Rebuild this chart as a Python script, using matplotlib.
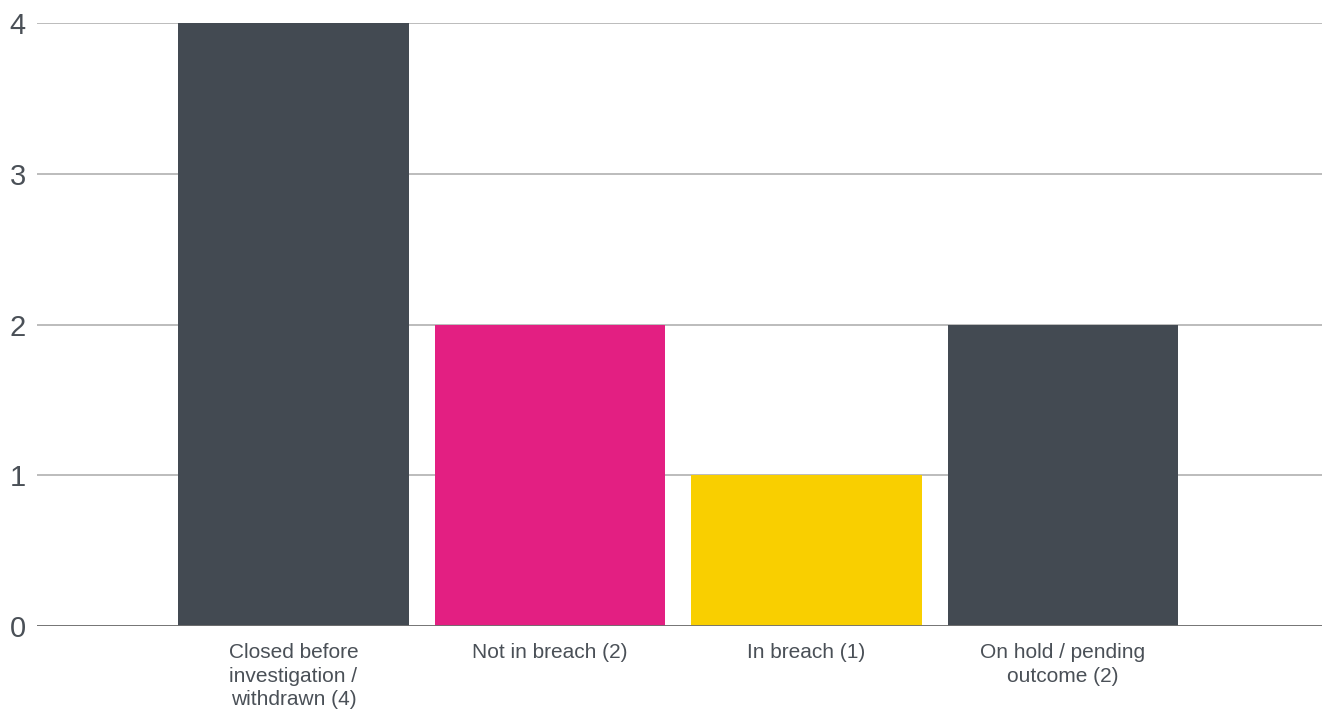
import matplotlib.pyplot as plt

# -- data --
categories = ["Closed before\ninvestigation /\nwithdrawn (4)", "Not in breach (2)",
              "In breach (1)", "On hold / pending\noutcome (2)"]
values = [4, 2, 1, 2]
colors = ["#434a52", "#e31f82", "#f9cf00", "#434a52"]
yticks = [0, 1, 2, 3, 4]

plt.rcParams['font.family'] = ['Liberation Sans', 'DejaVu Sans']

fig = plt.figure(figsize=(13.27, 7.11), dpi=100)
ax = fig.add_axes([0.0279, 0.1195, 0.9683, 0.8482])

x = list(range(len(categories)))
ax.bar(x, values, width=0.9, color=colors, zorder=3)

ax.set_xlim(-1, 4.01)
ax.set_ylim(0, 4)
ax.set_yticks(yticks)
ax.set_xticks(x)
ax.set_xticklabels(categories, fontsize=15, color="#4a5057", linespacing=1.3)

# gridlines, darker baseline
ax.grid(axis="y", color="#b0b0b0", linewidth=1.2, zorder=0)
ax.axhline(0, color="#707070", linewidth=1.3, zorder=4)

for s in ax.spines.values():
    s.set_visible(False)
ax.tick_params(axis="y", length=0, pad=8, labelsize=21, labelcolor="#4a5057")
ax.tick_params(axis="x", length=0, pad=12.5)

plt.savefig("out.png", dpi=100)
